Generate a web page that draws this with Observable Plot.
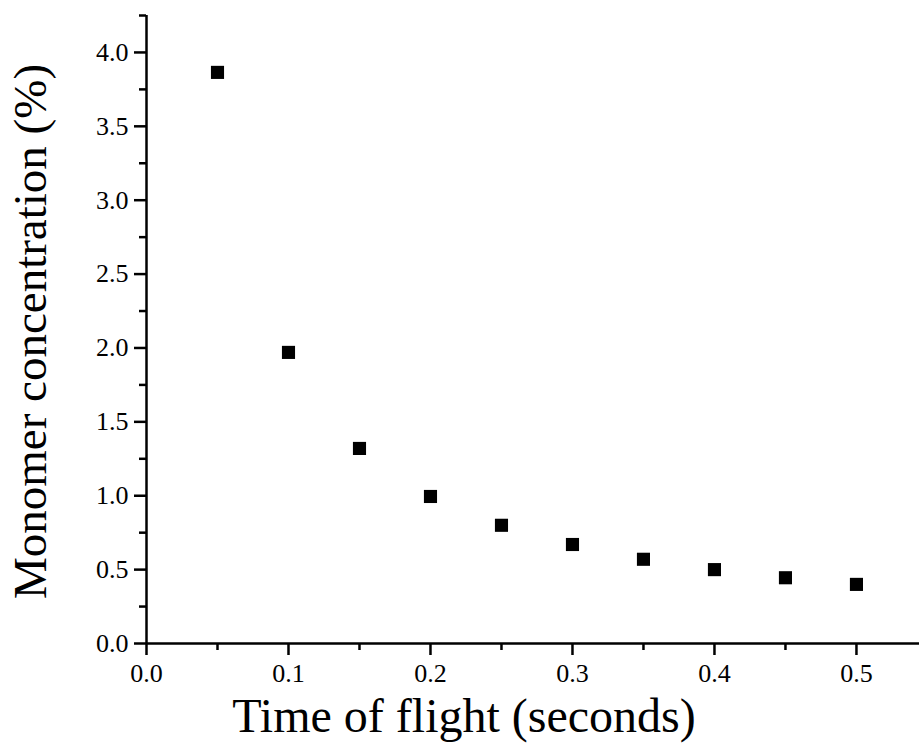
<!DOCTYPE html>
<html>
<head>
<meta charset="utf-8">
<script src="https://cdn.jsdelivr.net/npm/d3@7"></script>
<script src="https://cdn.jsdelivr.net/npm/@observablehq/plot@0.6"></script>
<style>
  html, body { margin: 0; padding: 0; background: #fff; }
  svg { display: block; }
  #chart svg, #chart svg text { font-family: "Liberation Serif", "DejaVu Serif", serif !important; }
</style>
</head>
<body>
<div id="chart"></div>
<script>
const timeOfFlight = [0.05, 0.10, 0.15, 0.20, 0.25, 0.30, 0.35, 0.40, 0.45, 0.50];
const monomerConc = [3.865, 1.97, 1.32, 0.995, 0.80, 0.67, 0.57, 0.50, 0.445, 0.40];
const xMajorTicks = [0, 0.1, 0.2, 0.3, 0.4, 0.5];
const xMinorTicks = [0.05, 0.15, 0.25, 0.35, 0.45];
const yMajorTicks = [0, 0.5, 1.0, 1.5, 2.0, 2.5, 3.0, 3.5, 4.0];
const yMinorTicks = [0.25, 0.75, 1.25, 1.75, 2.25, 2.75, 3.25, 3.75, 4.25];
const xTitle = "Time of flight (seconds)";
const yTitle = "Monomer concentration (%)";

const data = timeOfFlight.map((t, i) => ({t, c: monomerConc[i]}));
const font = "Liberation Serif";
const fmt = d3.format(".1f");

const chart = Plot.plot({
  width: 919,
  height: 748,
  marginLeft: 146,
  marginRight: 0,
  marginTop: 15,
  marginBottom: 105,
  style: {background: "#fff", color: "#000"},
  x: {domain: [0, 0.5444]},
  y: {domain: [0, 4.25]},
  marks: [
    Plot.axisX(xMajorTicks, {tickSize: 12, tickPadding: 8, tickFormat: fmt, fontSize: 26, fontFamily: font, strokeWidth: 2.5, label: null}),
    Plot.axisX(xMinorTicks, {tickSize: 7, text: null, strokeWidth: 2.5, label: null}),
    Plot.axisY(yMajorTicks, {tickSize: 12, tickPadding: 6, tickFormat: fmt, fontSize: 26, fontFamily: font, strokeWidth: 2.5, label: null}),
    Plot.axisY(yMinorTicks, {tickSize: 7, text: null, strokeWidth: 2.5, label: null}),
    Plot.ruleY([0], {strokeWidth: 2.5}),
    Plot.ruleX([0], {strokeWidth: 2.5}),
    Plot.dot(data, {x: "t", y: "c", symbol: "square", r: 7.4, fill: "#000", stroke: "none"}),
    Plot.text([xTitle], {frameAnchor: "bottom", textAnchor: "middle", dx: -69, dy: 88, fontSize: 48, fontFamily: font, fill: "#000", text: d => d}),
    Plot.text([yTitle], {frameAnchor: "left", textAnchor: "middle", dx: -116, dy: 2, rotate: -90, fontSize: 47, fontFamily: font, fill: "#000", text: d => d})
  ]
});
document.getElementById("chart").appendChild(chart);
</script>
</body>
</html>
